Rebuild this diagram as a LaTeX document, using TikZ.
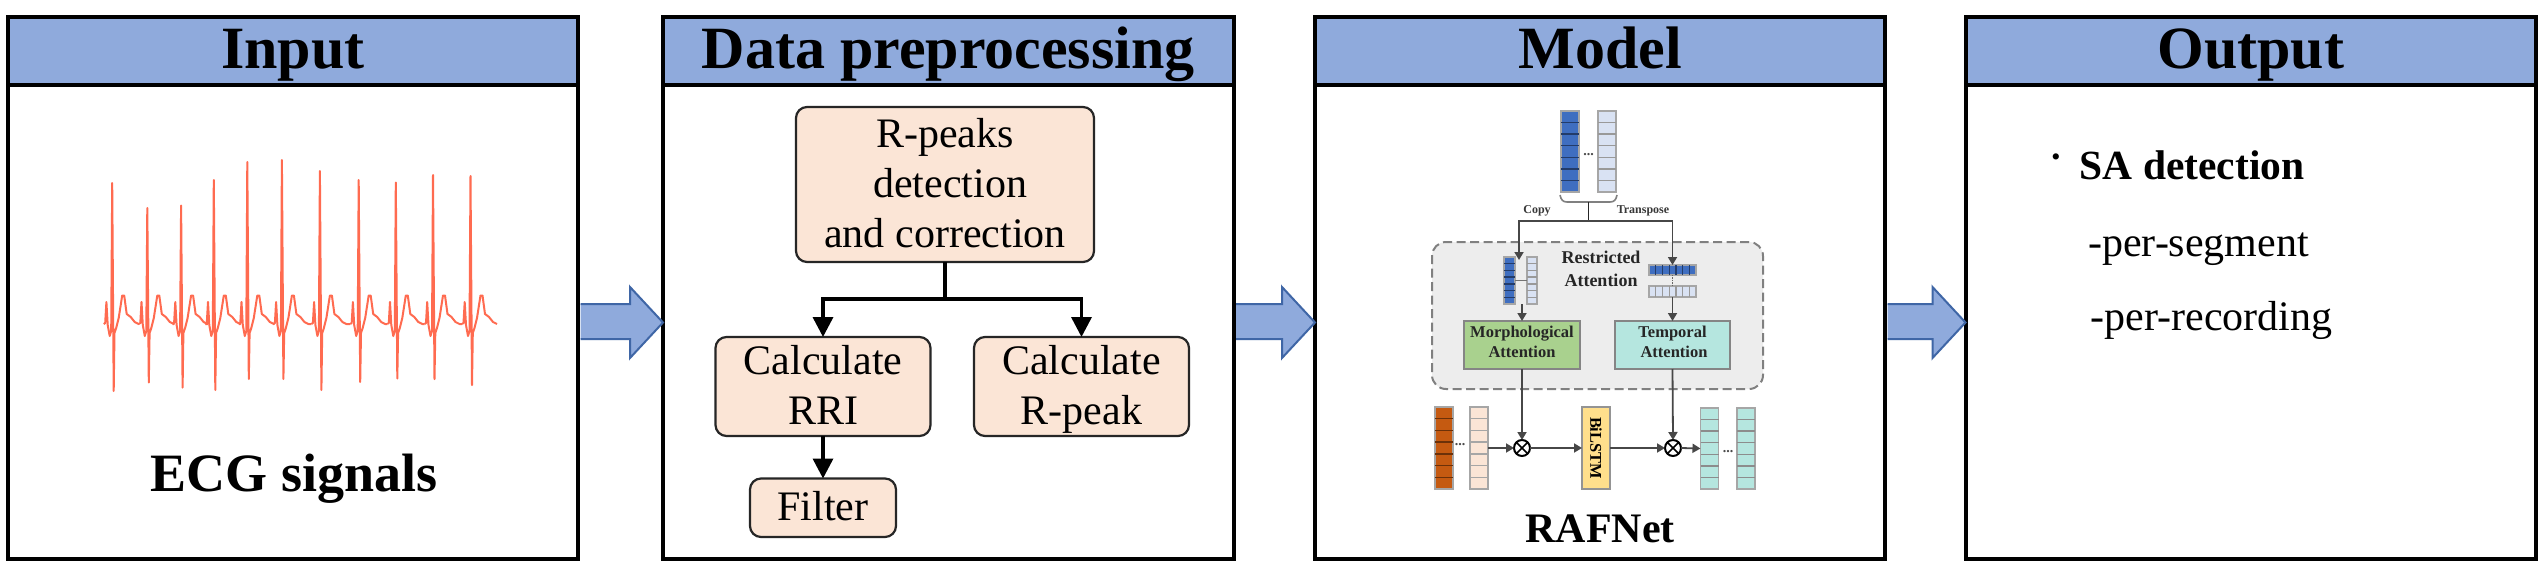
\documentclass[tikz,border=0pt]{standalone}
\usepackage{fontspec}
\usepackage{graphicx}
\setmainfont{Liberation Serif}
\usetikzlibrary{arrows.meta,calc}
\definecolor{headblue}{HTML}{8FAADC}
\definecolor{arrowedge}{HTML}{3F66A6}
\definecolor{peach}{HTML}{FBE5D6}
\definecolor{ecgred}{HTML}{FF6B50}
\definecolor{stackblue}{HTML}{3F6EC0}
\definecolor{stacklight}{HTML}{D9E2F3}
\definecolor{stackorange}{HTML}{C55A11}
\definecolor{stackteal}{HTML}{B5E6DF}
\definecolor{attgreen}{HTML}{A9D18E}
\definecolor{lstmyellow}{HTML}{FFDF8C}
\definecolor{groupgrey}{HTML}{EDEDED}
\newcommand{\fs}[1]{\fontsize{#1}{1.2\dimexpr #1pt\relax}\selectfont}
\newcommand{\headstrut}{\rule[-16pt]{0pt}{66pt}}
\newcommand{\hs}{\rule{0pt}{35pt}}
\newcommand{\ds}{\rule[-10pt]{0pt}{10pt}}
\tikzset{
  x=1pt,y=-1pt,
  panelhead/.style={draw=black,line width=4pt,fill=headblue,minimum width=#1,minimum height=68pt,inner sep=0pt,outer sep=0pt,font=\fs{60}\bfseries},
  panelbody/.style={draw=black,line width=4pt,fill=white,minimum width=#1,minimum height=474pt,inner sep=0pt,outer sep=0pt},
  bigarrow/.style={fill=headblue,draw=arrowedge,line width=2pt,line join=miter},
  procbox/.style={draw=black!85,line width=2.2pt,fill=peach,rounded corners=11pt,inner sep=0pt,outer sep=0pt,align=center,font=\fontsize{42}{50}\selectfont},
  flowline/.style={draw=black,line width=3.5pt},
  flow/.style={flowline,-{Triangle[length=20pt,width=20pt]}},
  bodylabel/.style={anchor=base,inner sep=0pt,font=\fs{42}},
  boldlabel/.style={anchor=base,inner sep=0pt,font=\fs{42}\bfseries},
  ecgline/.style={draw=ecgred,line width=2pt,line join=round},
  cellbox/.style={draw=#1,line width=1.4pt,inner sep=0pt,outer sep=0pt},
  thinlink/.style={draw=black!72,line width=1.8pt},
  thinflow/.style={thinlink,-{Triangle[length=8pt,width=9pt]}},
  tinylabel/.style={inner sep=0pt,text=black!78,font=\fs{12}\bfseries},
  dotslabel/.style={inner sep=0pt,text=black!70,font=\fs{14}\bfseries},
  groupbox/.style={draw=black!50,fill=groupgrey,line width=2pt,dash pattern=on 9pt off 4.5pt,rounded corners=14pt,inner sep=0pt,outer sep=0pt},
  attbox/.style={draw=black!48,line width=1.8pt,inner sep=0pt,outer sep=0pt,align=center,minimum width=115.5pt,minimum height=48pt,font=\fontsize{16.5}{20}\selectfont\bfseries},
  otimesnode/.style={circle,draw=black,line width=2pt,fill=white,minimum size=16pt,inner sep=0pt,outer sep=0pt,
    path picture={\draw[line width=1.5pt] (path picture bounding box.north west)--(path picture bounding box.south east)
      (path picture bounding box.north east)--(path picture bounding box.south west);}},
}
% name, centre x, centre y, width, height, inner rules, fill, line colour
\newcommand{\vstack}[8]{%
  \node[cellbox=black!35,fill=#7,minimum width=#4pt,minimum height=#5pt] (#1) at (#2,#3) {};
  \foreach \i in {1,...,#6}{\draw[#8,line width=1.3pt] ($(#1.north west)!{\i/(#6+1)}!(#1.south west)$) -- ($(#1.north east)!{\i/(#6+1)}!(#1.south east)$);}%
}
\newcommand{\hstack}[8]{%
  \node[cellbox=black!35,fill=#7,minimum width=#4pt,minimum height=#5pt] (#1) at (#2,#3) {};
  \foreach \i in {1,...,#6}{\draw[#8,line width=1.3pt] ($(#1.north west)!{\i/(#6+1)}!(#1.north east)$) -- ($(#1.south west)!{\i/(#6+1)}!(#1.south east)$);}%
}
% from-panel, to-panel
\newcommand{\blockarrow}[2]{%
  \coordinate (s#1) at ($(#1.east |- 0,304)+(2.5pt,0)$);
  \coordinate (t#1) at ($(#1.east |- 0,339)+(2.5pt,0)$);
  \coordinate (tip#1) at (#2.west |- 0,322.5);
  \draw[bigarrow] (s#1) -- ($(tip#1 |- 0,304)+(-33pt,0)$) -- ($(tip#1 |- 0,287)+(-33pt,0)$) -- (tip#1)
    -- ($(tip#1 |- 0,358)+(-33pt,0)$) -- ($(tip#1 |- 0,339)+(-33pt,0)$) -- (t#1);
}
\begin{document}
\begin{tikzpicture}
\fill[white] (0,0) rectangle (2544,570);
\useasboundingbox (0,0) rectangle (2544,570);

% panels
\node[panelbody=570pt] (b1) at (293,322) {};
\node[panelbody=570.5pt] (b2) at (948.25,322) {};
\node[panelbody=570pt] (b3) at (1600,322) {};
\node[panelbody=570.5pt] (b4) at (2250.75,322) {};
\node[panelhead=570pt] (h1) at (293,51) {\headstrut Input};
\node[panelhead=570.5pt] (h2) at (948.25,51) {\headstrut Data preprocessing};
\node[panelhead=570pt] (h3) at (1600,51) {\headstrut Model};
\node[panelhead=570.5pt] (h4) at (2250.75,51) {\headstrut Output};

% block arrows
\blockarrow{b1}{b2}
\blockarrow{b2}{b3}
\blockarrow{b3}{b4}

% ECG trace
\foreach \x/\t/\b/\n in {
  112.7/183/391/147.8,147.8/208/382.5/181.6,181.6/205.5/387.6/214.3,214.3/180/390/247.8,
  247.8/162/379/282.4,282.4/160/379/320.4,320.4/171/390/359.2,359.2/180/382/396.3,
  396.3/182.5/378.5/433.5,433.5/175/379/471.0,471.0/176/385/506}{
  \draw[ecgline] (\x-9,324) -- (\x-7.5,323) -- (\x-6.3,302) -- (\x-5,325) -- (\x-3,336) -- (\x-1.5,331) -- (\x-0.5,\t)
    -- (\x+1,\b) -- (\x+1.8,333) -- (\x+3.5,328) -- (\x+6,318) -- (\x+9.5,295.5) -- (\x+11.5,295.5) -- (\x+14,314)
    -- (\x+18,317) -- (\x+22,322) -- (\x+26,324) -- (\n-9,324);
}
\node[boldlabel,font=\fs{54}\bfseries] (ecg) at (294,491) {ECG signals};

% preprocessing
\node[procbox,minimum width=298pt,minimum height=155pt] (rp) at (945,184.5)
  {\hs R-peaks\\\hspace*{10pt}detection\\and correction\ds};
\node[procbox,minimum width=215pt,minimum height=99pt] (rri) at (823,386.5)
  {\hs Calculate\\RRI\ds};
\node[procbox,minimum width=215pt,minimum height=99pt] (rpk) at (1081.5,386.5)
  {\hs Calculate\\R-peak\ds};
\node[procbox,minimum width=146pt,minimum height=58.5pt] (flt) at (823,507.75)
  {\hs Filter\ds};
\coordinate (split) at (rp.south |- 0,299);
\draw[flowline] (rp.south) -- (split);
\draw[flow] (split) -| (rri.north);
\draw[flow] (split) -| (rpk.north);
\draw[flow] (rri.south) -- (flt.north);

% model: top input
\vstack{tb}{1570}{151.5}{18}{81}{6}{stackblue}{stackblue!55!black}
\vstack{tl}{1607}{151.5}{18}{81}{6}{stacklight}{black!40}
\node[dotslabel] (td) at (1588.5,155) {...};
\draw[draw=black!50,line width=1.6pt] (1560,195) .. controls (1561,200) and (1563,202) .. (1567,202) -- (1610,202)
  .. controls (1614,202) and (1616,200) .. (1617,195);
\coordinate (brc) at (1588.5,202);
\coordinate (jm) at (1588.5,221);
\draw[thinlink,black!85] (brc) -- (jm);
\node[tinylabel] (copy) at (1537,211) {Copy};
\node[tinylabel] (transpose) at (1643,211) {Transpose};

% restricted attention group
\node[groupbox,minimum width=331pt,minimum height=147pt] (rg) at (1597.5,315.5) {};
\node[inner sep=0pt,align=center,text=black!85,font=\fontsize{18}{23}\selectfont\bfseries] (rat) at (1601,268.5) {Restricted\\Attention};
\vstack{sb}{1509.5}{280.5}{11}{47}{6}{stackblue}{stackblue!55!black}
\vstack{sl}{1532}{280.5}{10}{47}{6}{stacklight}{black!40}
\hstack{hb}{1672.5}{270}{47}{10}{6}{stackblue}{stackblue!55!black}
\hstack{hl}{1672.5}{291.5}{47}{11}{6}{stacklight}{black!40}
\node[attbox,fill=attgreen,text=black!85] (morph) at (1522,345) {\rule{0pt}{12pt}Morphological\\Attention\rule[-8pt]{0pt}{8pt}};
\node[attbox,fill=stackteal,text=black!85] (temp) at (1672.5,345) {\rule{0pt}{12pt}Temporal\\\hspace*{3pt}Attention\rule[-8pt]{0pt}{8pt}};
\coordinate (copyend) at (1519,260);
\draw[thinflow] (jm) -| (copyend);
\draw[thinflow] (jm) -| (hb.north);
\draw[draw=black!55,line width=1.2pt] (sb.east) -- (sl.west);
\draw[draw=black!60,line width=1.4pt,densely dotted] (hb.south) -- (hl.north);
\draw[thinflow] (morph.north |- sb.south) -- (morph.north);
\draw[thinflow] (hl.south) -- (temp.north);

% model: bottom row
\vstack{ob}{1444}{448}{18}{82}{6}{stackorange}{stackorange!55!black}
\vstack{pb}{1479}{448}{18}{82}{6}{peach}{black!35}
\node[dotslabel] (pd) at (1460,445) {...};
\node[otimesnode] (c1) at (1522,448) {};
\node[otimesnode] (c2) at (1673,448) {};
\node[cellbox=black!42,line width=1.8pt,fill=lstmyellow,minimum width=28pt,minimum height=82pt,font=\fs{16.4}\bfseries] (lstm) at (1596,448) {\rotatebox{-90}{BiLSTM}};
\vstack{q1}{1709.5}{448.5}{18}{81}{6}{stackteal}{black!45}
\vstack{q2}{1746}{448.5}{18}{81}{6}{stackteal}{black!45}
\node[dotslabel] (qd) at (1728,452) {...};
\draw[thinflow] (morph.south) -- (c1.north);
\draw[thinflow] (temp.south) -- (c2.north);
\draw[thinflow] (pb.east) -- (c1.west);
\draw[thinflow] (c1.east) -- (lstm.west);
\draw[thinflow] (lstm.east) -- (c2.west);
\draw[thinflow] (c2.east) -- (q1.west);
\node[boldlabel] (raf) at (1600,542) {RAFNet};

% output
\node[anchor=center,inner sep=0pt,font=\fs{26}] (dot) at (2056,160) {•};
\node[boldlabel,font=\fs{41.5}\bfseries,anchor=base west] (sa) at (2079.5,179) {SA detection};
\node[bodylabel,anchor=base west] (seg) at (2088,256) {-per-segment};
\node[bodylabel,anchor=base west] (rec) at (2090.5,330) {-per-recording};
\end{tikzpicture}
\end{document}
